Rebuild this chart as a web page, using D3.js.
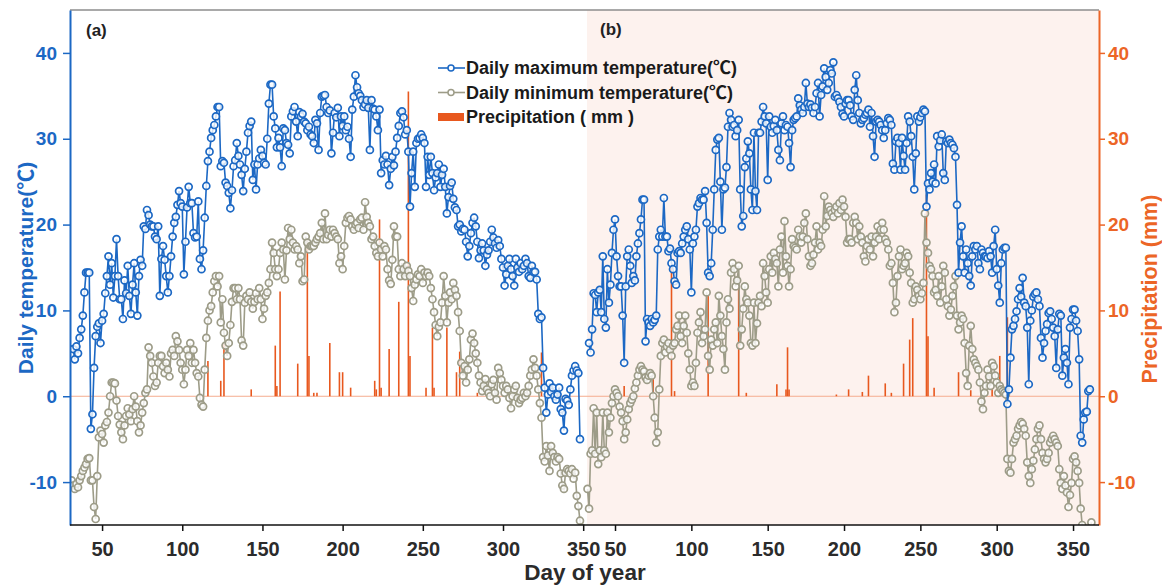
<!DOCTYPE html>
<html>
<head>
<meta charset="utf-8">
<script src="https://cdn.jsdelivr.net/npm/d3@7"></script>
<style>
  body { margin: 0; background: #fff; }
  text { font-family: Arial, "Liberation Sans", "Noto Sans CJK SC", sans-serif; font-weight: bold; }
</style>
</head>
<body>
<div id="chart"></div>
<script>
// Daily series, one value per day of year, starting at the given day.
const tmaxAStart = 32;
const tmaxA = [
  5.5,4.3,5.8,5.0,6.8,7.8,9.4,12.1,14.4,14.4,
  14.4,-3.8,-2.1,3.3,7.0,8.1,8.5,6.2,8.8,9.6,
  12.0,14.0,16.3,13.0,15.5,11.5,14.0,18.3,14.0,11.3,
  11.3,9.0,13.5,12.0,15.2,11.7,9.6,13.0,15.5,12.1,
  9.4,14.0,15.9,15.2,19.8,19.5,21.7,21.1,20.0,19.8,
  19.8,18.6,18.3,19.8,11.7,16.0,17.5,15.9,14.0,12.1,
  14.0,16.3,18.6,20.2,20.9,22.3,23.9,22.5,22.1,14.2,
  18.0,22.0,24.4,22.5,22.5,19.0,18.5,18.6,22.7,16.0,
  14.8,17.0,20.8,24.5,27.4,28.5,30.1,31.0,31.6,32.6,
  33.7,33.7,26.8,27.4,27.2,24.9,24.5,23.7,21.9,24.0,
  26.8,27.5,29.5,
  28.0,27.0,25.8,23.9,26.5,28.5,30.7,
  31.5,32.0,25.2,27.0,24.1,27.0,27.7,28.7,28.0,27.2,
  27.0,30.0,34.1,36.3,36.3,32.6,31.2,29.0,30.1,29.0,
  26.8,31.2,31.0,29.5,29.3,28.3,32.6,33.2,33.7,32.0,
  30.3,33.1,32.6,32.9,32.0,31.8,31.0,31.4,30.5,30.3,
  29.5,32.2,31.8,28.7,33.0,34.9,35.0,35.1,33.7,33.0,
  33.3,28.3,30.7,33.0,32.5,33.6,30.3,32.6,31.5,32.6,
  31.0,31.4,30.0,27.9,33.4,34.9,37.4,36.0,35.3,35.0,
  34.5,33.7,34.0,34.5,33.6,28.7,34.5,33.5,33.4,32.6,
  31.0,33.4,26.0,27.5,27.0,28.0,27.0,24.6,26.5,27.9,
  26.9,28.5,30.1,31.5,33.0,33.2,32.5,30.5,31.0,
  28.5,22.1,26.0,28.5,24.4,29.5,30.0,30.1,30.5,30.1,
  29.5,24.4,27.9,25.8,27.9,26.0,24.0,25.5,26.0,27.0,
  24.4,25.8,26.5,24.4,21.3,23.2,24.5,24.9,23.0,22.0,
  21.7,19.8,20.0,19.2,19.5,19.4,18.0,16.3,17.5,19.0,
  20.2,20.8,19.8,18.0,16.1,17.0,17.8,17.0,15.2,16.5,
  17.0,18.0,19.4,18.5,17.8,17.3,18.2,17.5,16.0,15.0,
  12.9,14.2,15.2,16.0,14.8,14.0,12.9,16.0,15.0,14.5,
  15.5,14.8,15.2,16.0,15.5,14.0,13.8,15.2,14.5,14.5,
  13.6,9.6,9.0,9.2,3.3,1.0,-1.9,0.2,1.5,0.5,
  1.0,0.0,-0.4,0.2,1.0,-1.5,-1.9,-4.0,-0.3,-0.5,
  -1.0,0.8,2.4,3.0,3.5,3.0,2.7,-5.0
];

const tminAStart = 31;
const tminA = [
  -9.8,-10.4,-10.8,-10.2,-10.6,-9.8,-9.3,-8.7,-8.3,-7.9,
  -7.3,-7.2,-9.8,-9.8,-12.9,-14.3,-9.3,-4.8,-4.0,-4.4,
  -5.4,-3.4,-3.0,-1.9,0.0,1.6,1.6,1.5,-0.5,-2.3,
  -3.3,-4.2,-5.0,-3.4,-2.3,-1.4,-2.1,-2.9,-1.5,0.0,
  -1.2,-2.9,-4.2,-3.4,-1.9,-0.8,0.4,0.8,5.7,4.7,
  3.9,2.3,1.2,1.6,3.9,4.7,4.7,3.5,2.7,3.9,
  3.1,2.3,5.0,5.4,4.7,7.0,6.4,5.4,3.9,3.1,
  1.4,3.1,5.4,4.7,6.2,3.9,5.4,3.9,2.7,2.3,
  -0.2,-1.0,-1.2,3.1,6.8,8.8,10.0,10.5,12.1,13.4,
  14.0,12.8,14.0,8.6,11.3,7.4,5.9,4.7,6.2,8.3,
  11.0,12.6,12.6,11.3,
  12.6,11.3,6.5,5.9,10.9,11.7,
  11.3,12.1,11.0,10.2,11.0,12.0,11.3,12.6,11.3,9.0,
  10.2,11.7,12.1,13.2,14.8,17.9,16.7,14.8,14.0,14.8,
  16.7,17.9,17.1,13.6,17.0,19.6,18.3,19.4,17.9,17.1,
  17.5,17.1,15.5,16.3,13.4,13.6,18.6,17.9,17.1,17.5,
  17.5,17.5,17.9,18.3,18.6,19.0,20.2,18.3,21.3,18.3,
  18.8,19.4,18.6,19.4,19.0,18.6,18.3,15.5,16.3,14.8,
  17.5,20.2,20.8,21.0,20.6,19.8,19.4,20.0,20.2,19.6,
  20.6,20.8,19.4,22.6,20.9,20.2,19.8,18.3,18.6,17.5,
  16.7,16.3,17.9,17.1,16.3,17.5,17.1,14.8,13.5,13.1,
  15.9,19.8,18.6,18.6,14.8,14.0,15.5,14.8,14.0,15.2,
  14.6,14.0,12.6,11.1,13.0,13.6,14.2,14.0,14.8,13.2,
  14.4,14.0,14.4,14.0,12.6,11.3,9.8,8.3,7.0,8.1,
  8.6,10.9,14.0,11.7,8.6,10.9,12.1,11.3,13.2,12.4,
  11.7,9.8,7.6,3.9,2.4,3.5,1.6,3.1,4.3,6.6,
  7.3,6.2,5.0,3.9,2.4,1.6,0.6,1.2,2.0,0.8,
  0.4,0.0,1.4,1.9,0.4,-0.4,3.3,2.7,1.9,1.2,
  0.4,1.2,0.8,-0.2,-1.4,0.0,0.8,1.2,-0.2,-0.8,
  -0.4,-0.2,0.4,0.0,0.4,1.2,2.4,3.1,4.3,3.3,
  2.4,0.8,-0.8,-2.5,-7.1,-7.6,-5.8,-6.9,-8.7,-5.8,
  -6.6,-7.1,-7.6,-7.1,-7.3,-9.0,-10.4,-10.8,-8.9,-8.5,
  -8.7,-9.0,-8.5,-9.6,-8.9,-11.6,-12.8,-14.5,-15.3
];

const tmaxBStart = 33;
const tmaxB = [
  6.2,5.1,7.8,12.0,11.8,9.8,12.1,12.4,9.8,16.3,
  9.0,8.0,14.8,10.9,13.0,16.7,19.4,20.6,16.3,14.0,
  12.8,12.8,9.4,3.9,12.8,16.3,17.1,15.2,13.2,14.0,
  13.5,16.3,17.8,19.0,20.6,22.9,22.9,6.4,9.0,8.6,
  8.2,9.0,8.6,8.9,9.4,17.1,18.6,19.4,18.6,23.1,
  18.6,18.6,16.9,17.2,15.5,14.8,13.4,13.0,16.7,16.9,
  16.7,17.8,18.6,19.4,19.8,18.3,17.1,12.1,17.8,18.6,
  19.4,22.1,22.5,23.1,22.9,22.9,23.9,20.2,14.4,14.0,
  15.5,19.4,24.1,28.7,29.9,30.1,25.0,19.4,24.1,24.3,
  26.7,31.4,33.0,32.2,31.4,31.6,30.3,31.0,32.2,24.1,
  19.8,21.0,26.7,27.7,29.7,28.3,24.1,21.7,30.7,
  23.9,21.7,30.7,30.7,32.0,33.7,32.6,31.8,25.2,32.6,
  31.4,30.7,31.5,32.2,31.0,28.7,27.5,31.8,32.6,31.0,
  31.6,31.4,29.5,26.7,31.0,32.2,32.4,32.6,34.7,33.9,
  33.4,33.0,33.7,36.5,34.1,33.7,34.0,33.6,33.0,33.7,
  35.3,36.5,32.6,35.1,36.1,38.2,37.2,35.7,36.5,38.0,
  37.6,38.9,34.9,35.1,34.7,34.3,33.7,32.9,32.6,34.1,
  34.5,34.5,33.9,32.6,32.2,35.7,37.4,34.5,33.0,31.8,
  32.2,32.4,32.8,33.0,33.4,31.4,33.0,30.3,27.9,32.0,
  32.2,32.0,31.6,31.0,30.1,31.0,31.8,32.4,32.2,31.6,
  27.1,26.4,29.7,30.1,29.5,26.4,30.1,28.0,26.4,29.5,
  32.6,32.0,30.3,27.9,24.1,28.3,32.6,32.0,32.5,33.0,
  33.4,33.2,22.1,
  24.8,24.1,26.0,25.0,27.0,24.8,30.3,29.1,29.8,30.5,
  26.0,25.2,29.7,29.5,29.9,29.5,29.3,28.9,27.9,22.3,
  14.4,17.9,19.8,16.3,14.4,17.1,15.5,14.0,12.9,16.3,
  17.5,17.1,17.5,15.5,14.8,17.1,16.7,16.3,16.3,16.1,
  16.9,16.3,14.4,17.5,19.4,14.8,12.9,10.9,15.5,17.1,
  17.3,17.3,-0.9,0.8,4.5,7.8,8.2,9.0,9.9,11.3,
  12.6,11.6,13.8,10.9,10.5,8.0,1.4,8.8,10.0,11.6,
  11.9,12.1,11.3,10.5,6.8,4.5,6.2,7.6,8.4,9.7,
  9.9,9.0,8.0,7.0,3.3,7.8,9.6,9.4,2.4,4.5,
  5.5,3.9,1.4,8.0,9.0,10.1,10.1,8.8,7.6,4.3,
  -4.6,-5.4,-2.7,-1.9,-1.8,0.6,0.8
];

const tminBStart = 32;
const tminB = [
  -10.8,-13.1,-6.7,-6.3,-1.4,-6.7,-1.9,-7.9,-6.3,-7.1,
  -1.9,-6.3,-6.7,-1.9,-4.2,-2.5,-0.8,0.0,0.8,0.4,
  0.0,-1.2,-1.9,-2.9,-5.0,-4.2,-2.7,-1.5,-0.8,-0.4,
  0.0,0.9,1.6,2.4,3.1,3.5,3.1,2.9,2.2,1.9,
  2.4,2.7,2.4,0.0,-2.5,-5.4,-4.2,0.8,4.7,6.2,
  6.6,5.1,5.8,6.2,5.4,4.7,5.9,6.2,7.8,8.2,
  9.4,7.0,6.2,8.2,9.4,7.4,5.0,3.1,1.2,1.6,
  1.2,3.9,7.4,8.6,9.8,6.2,7.0,7.8,12.1,4.7,
  3.1,6.6,5.9,7.8,8.6,6.2,11.7,9.4,7.0,5.5,
  3.1,8.6,11.3,10.2,14.4,15.5,14.8,12.8,13.5,15.2,
  5.9,7.8,10.2,12.8,11.3,10.9,9.4,6.2,5.9,10.9,
  6.2,8.5,10.9,11.7,10.5,15.5,14.0,12.1,10.9,14.8,
  16.3,14.4,16.7,16.0,15.5,12.8,17.1,18.6,14.4,20.4,
  16.3,15.2,12.8,14.8,18.3,17.5,17.3,17.1,19.4,18.6,
  17.9,18.6,20.2,21.3,18.3,16.3,15.2,15.5,16.5,17.9,
  19.8,17.1,17.9,17.5,19.4,23.3,19.8,21.0,22.1,21.7,
  21.3,20.9,21.7,22.1,21.3,22.5,21.7,22.9,22.1,20.9,
  17.9,18.3,18.3,17.9,20.2,20.9,20.2,18.3,19.8,18.6,
  17.9,16.3,15.7,17.5,18.3,17.1,18.6,16.3,17.9,18.6,
  19.8,18.3,19.4,20.2,19.4,18.3,17.9,17.1,15.2,15.5,
  13.2,9.8,10.9,14.0,16.3,17.1,14.8,15.2,15.5,16.7,
  16.3,14.4,13.2,10.9,11.3,12.8,12.4,11.7,11.3,12.0,
  13.2,21.3,
  17.9,16.7,15.2,14.8,14.0,12.1,12.4,11.7,14.0,10.9,
  12.8,15.2,14.4,11.3,10.5,9.4,10.1,11.7,12.8,14.0,
  9.4,7.8,8.6,9.4,9.0,6.2,2.7,1.2,5.9,8.2,
  5.5,4.3,3.9,3.5,3.1,1.6,-0.6,-1.5,0.4,1.2,
  3.1,2.3,1.2,3.9,3.5,2.4,1.6,0.4,1.2,0.8,
  0.6,0.4,0.2,-7.3,-8.7,-8.9,-7.3,-5.4,-5.0,-4.6,
  -3.8,-3.4,-3.0,-3.2,-3.8,-4.6,-7.7,-9.3,-10.1,-8.5,
  -7.5,-6.2,-5.0,-3.8,-3.4,-5.0,-6.6,-7.3,-7.7,-7.3,
  -6.6,-5.4,-5.0,-4.6,-5.0,-5.4,-5.8,-8.5,-10.1,-10.8,
  -9.3,-10.4,-11.2,-12.9,-11.5,-10.1,-7.3,-7.0,-7.7,-8.7,
  -10.1,-13.1,-15.0,-16.0,-17.0,-17.0,-16.5,-16.0,-14.7
];

// Precipitation events: [day of year, mm]
const precipA = [
  [116,4.1],[124,1.8],[126,6.1],[143,0.8],[158,5.9],[159,1.2],[161,12.2],
  [172,3.8],[178,18.3],[179,4.7],[182,0.4],[184,0.4],[192,6.2],[198,2.8],
  [200,2.8],[205,1.0],[220,1.8],[221,0.8],[223,20.6],[224,1.0],[229,5.5],
  [235,11.0],[241,35.5],[242,4.7],[252,1.0],[256,8.0],[257,1.0],[265,8.0],
  [271,2.8],[273,5.2],[284,0.4],[324,5.1]
];
const precipB = [
  [56,1.2],[75,2.1],[87,15.3],[89,0.6],[111,11.7],[131,12.8],[136,0.4],
  [156,1.4],[162,0.8],[163,5.7],[164,0.8],[195,0.2],[203,0.8],[212,0.5],
  [216,2.4],[227,1.5],[231,0.4],[239,3.8],[243,6.6],[245,9.1],[254,23.5],
  [255,7.0],[259,1.0],[275,2.8],[283,0.7],[297,1.0],[302,4.7],[307,9.2]
];

const dayTicks = [50, 100, 150, 200, 250, 300, 350];
const valueTicks = [-10, 0, 10, 20, 30, 40];

const blue = '#1c68c4';
const grey = '#9d9c88';
const orange = '#e8581e';
const axisOrange = '#ec6526';

const plotLeft = 70, plotRight = 1099, plotTop = 10, plotBottom = 525;
const split = 587;

const svg = d3.select('#chart')
    .append('svg')
    .attr('width', 1162)
    .attr('height', 588);

const y = d3.scaleLinear().domain([-15, 45]).range([plotBottom, plotTop]);
const xA = d3.scaleLinear().domain([30, 353]).range([plotLeft, 588]);
const xB = d3.scaleLinear().domain([31, 367]).range([586, plotRight]);

svg.append('defs').append('clipPath').attr('id', 'plot')
    .append('rect')
    .attr('x', plotLeft).attr('y', plotTop)
    .attr('width', plotRight - plotLeft).attr('height', plotBottom - plotTop);

// pink background of panel (b)
svg.append('rect')
    .attr('x', split).attr('y', plotTop)
    .attr('width', plotRight - split).attr('height', plotBottom - plotTop)
    .attr('fill', '#fdf2ee');

const plot = svg.append('g').attr('clip-path', 'url(#plot)');

// zero line for precipitation
plot.append('line')
    .attr('x1', plotLeft).attr('x2', plotRight)
    .attr('y1', y(0)).attr('y2', y(0))
    .attr('stroke', '#f5ac8e')
    .attr('stroke-width', 1);

function drawPanel(x, precip, tmin, tminStart, tmax, tmaxStart) {
    const g = plot.append('g');

    g.selectAll('line.rain')
        .data(precip)
        .join('line')
        .attr('class', 'rain')
        .attr('x1', d => x(d[0])).attr('x2', d => x(d[0]))
        .attr('y1', y(0)).attr('y2', d => y(d[1]))
        .attr('stroke', orange)
        .attr('stroke-width', 1.6);

    const series = [
        {values: tmin, start: tminStart, color: grey},
        {values: tmax, start: tmaxStart, color: blue}
    ];

    series.forEach(s => {
        const line = d3.line()
            .x((d, i) => x(s.start + i))
            .y(d => y(d));

        g.append('path')
            .datum(s.values)
            .attr('fill', 'none')
            .attr('stroke', s.color)
            .attr('stroke-width', 1.6)
            .attr('d', line);

        g.append('g')
            .selectAll('circle')
            .data(s.values)
            .join('circle')
            .attr('cx', (d, i) => x(s.start + i))
            .attr('cy', d => y(d))
            .attr('r', 3.5)
            .attr('fill', '#fff')
            .attr('fill-opacity', 0.8)
            .attr('stroke', s.color)
            .attr('stroke-width', 1.7);
    });
}

drawPanel(xA, precipA, tminA, tminAStart, tmaxA, tmaxAStart);
drawPanel(xB, precipB, tminB, tminBStart, tmaxB, tmaxBStart);

// top frame line
svg.append('line')
    .attr('x1', plotLeft).attr('x2', plotRight)
    .attr('y1', plotTop).attr('y2', plotTop)
    .attr('stroke', '#8d8d8d')
    .attr('stroke-width', 1.5);

const plainNumber = d => String(d);

// left axis
const yLeft = svg.append('g')
    .attr('transform', `translate(${plotLeft},0)`)
    .call(d3.axisLeft(y).tickValues(valueTicks).tickFormat(plainNumber)
        .tickSize(7).tickPadding(6).tickSizeOuter(0));
yLeft.select('.domain').attr('stroke', blue).attr('stroke-width', 2);
yLeft.selectAll('.tick line').attr('stroke', blue).attr('stroke-width', 1.5);
yLeft.selectAll('.tick text')
    .attr('fill', blue)
    .style('font-size', '19px')
    .style('font-weight', 'bold');

// right axis
const yRight = svg.append('g')
    .attr('transform', `translate(${plotRight},0)`)
    .call(d3.axisRight(y).tickValues(valueTicks).tickFormat(plainNumber)
        .tickSize(6).tickPadding(3).tickSizeOuter(0));
yRight.select('.domain').attr('stroke', axisOrange).attr('stroke-width', 2);
yRight.selectAll('.tick line').attr('stroke', axisOrange).attr('stroke-width', 1.5);
yRight.selectAll('.tick text')
    .attr('fill', axisOrange)
    .style('font-size', '19px')
    .style('font-weight', 'bold');

// bottom axes, one per panel
svg.append('line')
    .attr('x1', plotLeft).attr('x2', plotRight)
    .attr('y1', plotBottom).attr('y2', plotBottom)
    .attr('stroke', '#111').attr('stroke-width', 1.6);

[xA, xB].forEach(x => {
    const ax = svg.append('g')
        .attr('transform', `translate(0,${plotBottom})`)
        .call(d3.axisBottom(x).tickValues(dayTicks).tickFormat(plainNumber)
            .tickSize(6).tickPadding(11).tickSizeOuter(0));
    ax.select('.domain').remove();
    ax.selectAll('.tick line').attr('stroke', '#111').attr('stroke-width', 1.5);
    ax.selectAll('.tick text')
        .attr('fill', '#2b2b2b')
        .style('font-size', '20px')
        .style('font-weight', 'bold');
});

// axis titles
svg.append('text')
    .attr('transform', `translate(33,268) rotate(-90)`)
    .attr('text-anchor', 'middle')
    .attr('fill', blue)
    .style('font-size', '21px')
    .text('Daily temperature(℃)');

svg.append('text')
    .attr('transform', `translate(1157,289) rotate(-90)`)
    .attr('text-anchor', 'middle')
    .attr('fill', axisOrange)
    .style('font-size', '21.5px')
    .text('Precipitation (mm)');

svg.append('text')
    .attr('x', 585).attr('y', 580)
    .attr('text-anchor', 'middle')
    .attr('fill', '#2b2b2b')
    .style('font-size', '22.5px')
    .text('Day of year');

// panel tags
svg.append('text').attr('x', 86).attr('y', 36).style('font-size', '17px').attr('fill', '#222').text('(a)');
svg.append('text').attr('x', 600).attr('y', 35).style('font-size', '17px').attr('fill', '#222').text('(b)');

// legend
const legend = svg.append('g');
const legendItems = [
    {label: 'Daily maximum temperature(℃)', color: blue, type: 'line'},
    {label: 'Daily minimum temperature(℃)', color: grey, type: 'line'},
    {label: 'Precipitation ( mm )', color: orange, type: 'bar'}
];
legendItems.forEach((d, i) => {
    const cy = 68 + i * 24.5;
    if (d.type === 'line') {
        legend.append('line')
            .attr('x1', 438).attr('x2', 465)
            .attr('y1', cy).attr('y2', cy)
            .attr('stroke', d.color).attr('stroke-width', 1.6);
        legend.append('circle')
            .attr('cx', 451).attr('cy', cy).attr('r', 3)
            .attr('fill', '#fff').attr('stroke', d.color).attr('stroke-width', 1.5);
    } else {
        legend.append('rect')
            .attr('x', 438).attr('y', cy - 4)
            .attr('width', 26).attr('height', 8)
            .attr('fill', d.color);
    }
    legend.append('text')
        .attr('x', 466).attr('y', cy + 6)
        .attr('fill', '#1a1a1a')
        .style('font-size', '18px')
        .text(d.label);
});
</script>
</body>
</html>
